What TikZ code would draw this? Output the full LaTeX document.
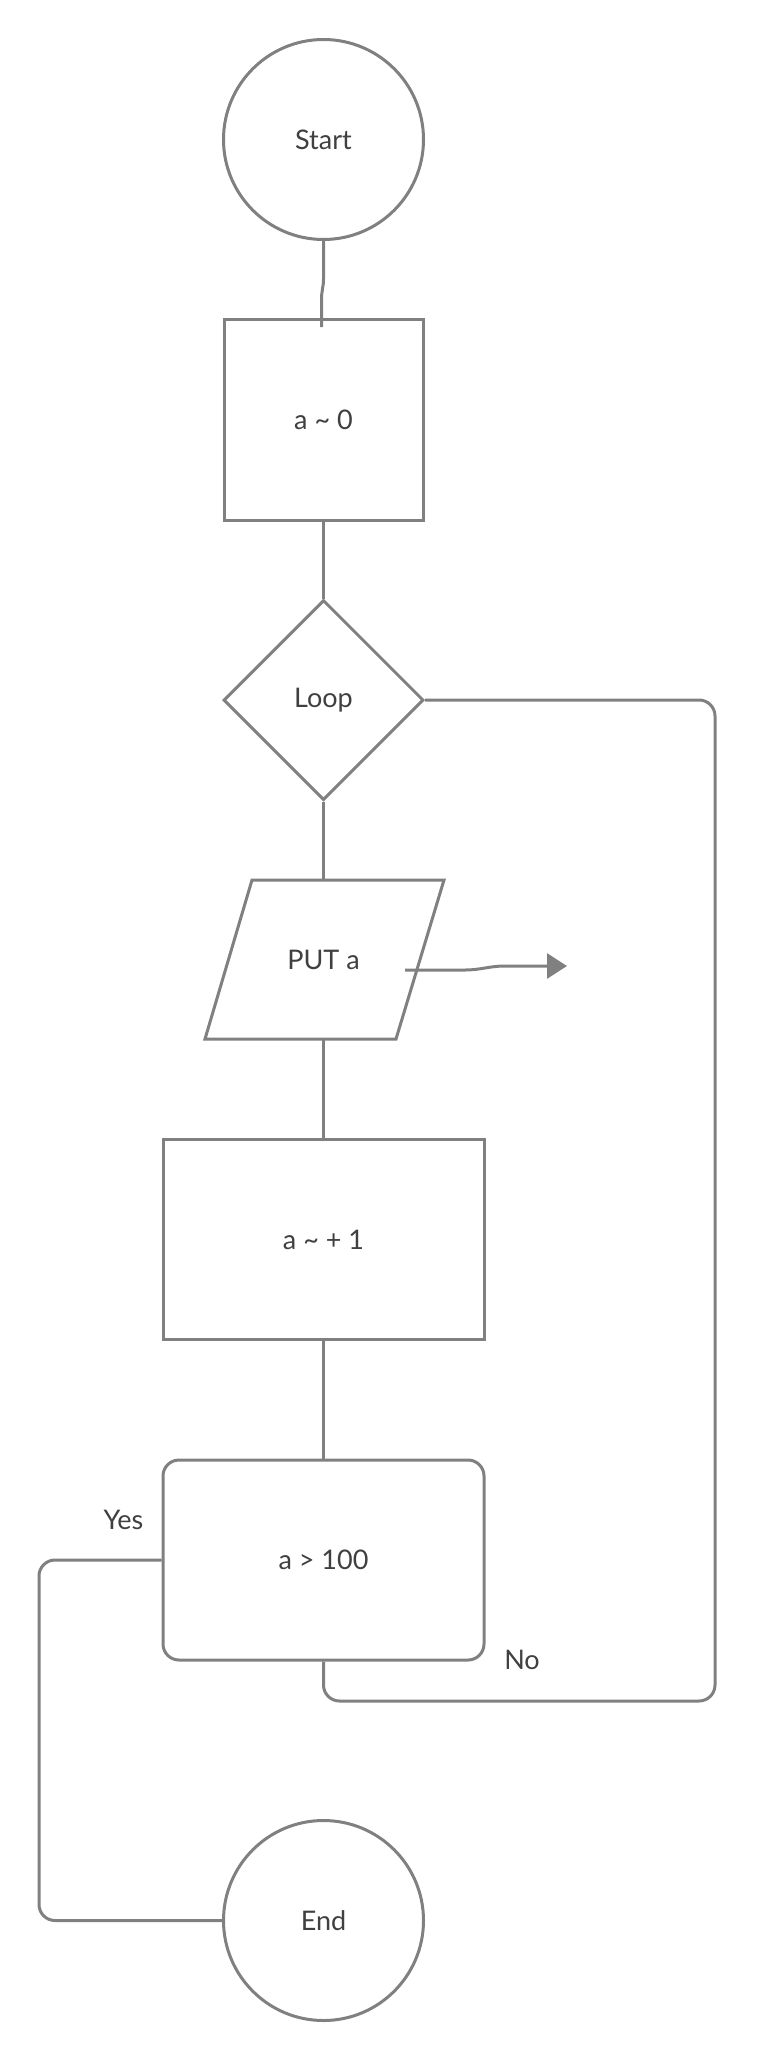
\documentclass[tikz,border=0pt]{standalone}
\usepackage{fontspec}
\setmainfont{Lato}
\usetikzlibrary{shapes.geometric,arrows.meta}
\definecolor{linegray}{HTML}{808080}
\definecolor{textgray}{HTML}{404040}

\begin{document}
\begin{tikzpicture}[x=1pt,y=-1pt,
  every node/.style={font=\fontsize{27}{32}\selectfont, text=textgray},
  box/.style={draw=linegray, line width=3pt, fill=white, inner sep=0pt},
  link/.style={draw=linegray, line width=3pt}]
  \useasboundingbox (0,0) rectangle (765,2060);

  \node[box, circle, minimum size=200pt] (start) at (323.5,139.5) {Start};
  \node[box, minimum width=199pt, minimum height=201pt] (init) at (323.5,419.5) {a \textasciitilde{} 0};
  \node[box, diamond, minimum width=200pt, minimum height=200pt] (loop) at (323.5,700) {Loop};
  \node[inner sep=0pt, minimum width=192pt, minimum height=159pt] (put) at (323.5,959.5) {PUT a};
  \draw[link, line join=miter] ([shift={(-71.5,-79.5)}]put.center) -- ([shift={(120.5,-79.5)}]put.center)
    -- ([shift={(72.5,79.5)}]put.center) -- ([shift={(-118.5,79.5)}]put.center) -- cycle;
  \node[box, minimum width=321pt, minimum height=200pt] (inc) at (323.5,1239.5) {a \textasciitilde{} + 1};
  \node[box, rounded corners=16pt, minimum width=321pt, minimum height=200pt] (test) at (323.5,1560) {a > 100};
  \node[box, circle, minimum size=200pt] (end) at (323.5,1920.5) {End};

  \node (yes) at (123.5,1519.5) {Yes};
  \node (no) at (522,1660) {No};
  \coordinate (putout) at (567,966);

  \draw[link] (start.south) -- ++(0,38) to[out=-90,in=90] ++(-2,20) -- ++(0,28); %% start -> init
  \draw[link] (init.south) -- (loop.north); %% init -> loop
  \draw[link] (loop.south) -- (put.north); %% loop -> put
  \draw[link] (put.south) -- (inc.north); %% put -> inc
  \draw[link] (inc.south) -- (test.north); %% inc -> test
  \draw[link, -{Triangle[length=20pt,width=25pt]}] ([shift={(81.5,10.5)}]put.center)
    -- ++(60,0) to[out=0,in=180] ++(40,-4) -- (putout); %% put -> out
  \draw[link, rounded corners=16pt] (test.west) -- ++(-122.5,0) |- (end.west); %% yes
  \draw[link, rounded corners=16pt] (test.south) -- ++(0,39.5) -- ++(391.5,0) |- (loop.east); %% no
\end{tikzpicture}
\end{document}
